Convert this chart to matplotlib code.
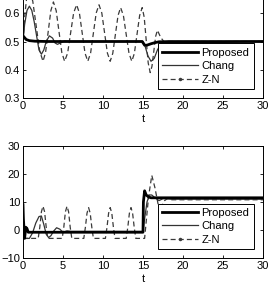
import numpy as np
import matplotlib
matplotlib.use('Agg')
import matplotlib.pyplot as plt
from matplotlib.lines import Line2D

plt.rcParams['font.family'] = ['Liberation Sans', 'DejaVu Sans']
plt.rcParams['font.size'] = 8

# ---- top panel: output ----
t_prop_y = [0, 0.15, 0.4, 0.8, 1.5, 3, 14.9, 15.2, 15.5, 16, 16.5, 17, 30]
prop_y = [0.52, 0.515, 0.507, 0.503, 0.501, 0.5, 0.5, 0.487, 0.487, 0.492, 0.496, 0.499, 0.5]

t_chang_y = [0, 0.2, 0.5, 0.8, 1.1, 1.4, 1.7, 2.0, 2.3, 2.6, 2.9, 3.3, 3.7, 4.0, 4.3,
             4.7, 5.2, 6, 15, 15.3, 15.6, 16.0, 16.4, 16.8, 17.2, 17.6, 18.2, 30]
chang_y = [0.5, 0.56, 0.61, 0.625, 0.61, 0.57, 0.52, 0.47, 0.455, 0.47, 0.50, 0.52, 0.512,
           0.495, 0.49, 0.495, 0.502, 0.5, 0.5, 0.48, 0.45, 0.43, 0.44, 0.47, 0.49, 0.5, 0.502, 0.5]

t_zn_y = [0, 0.25, 0.5, 0.8, 1.22, 1.65, 2.08, 2.5, 2.82, 3.15, 3.48, 3.8, 4.15, 4.5, 4.85, 5.2,
          5.58, 5.95, 6.33, 6.7, 7.05, 7.4, 7.75, 8.1, 8.45, 8.8, 9.15, 9.5, 9.85, 10.2, 10.55,
          10.9, 11.22, 11.55, 11.88, 12.2, 12.55, 12.9, 13.25, 13.6, 13.92, 14.25, 14.58, 14.9,
          15.15, 15.4, 15.65, 15.9, 16.12, 16.35, 16.58, 16.8, 17.2, 17.6, 30]
zn_y = [0.5, 0.6, 0.665, 0.68, 0.643, 0.555, 0.467, 0.43, 0.461, 0.535, 0.609, 0.64, 0.609,
        0.535, 0.461, 0.43, 0.459, 0.53, 0.601, 0.63, 0.601, 0.53, 0.459, 0.43, 0.459, 0.53,
        0.601, 0.63, 0.601, 0.53, 0.459, 0.43, 0.458, 0.525, 0.592, 0.62, 0.592, 0.525, 0.458,
        0.43, 0.458, 0.525, 0.592, 0.62, 0.586, 0.505, 0.424, 0.39, 0.412, 0.465, 0.518, 0.54,
        0.515, 0.5, 0.5]

# ---- bottom panel: control signal ----
t_prop_u = [0, 0.05, 0.2, 0.35, 0.5, 0.65, 0.8, 15.0, 15.05, 15.2, 15.4, 15.7, 16.0, 30]
prop_u = [9, 4, -3, 1, 0.5, -0.8, -0.8, -0.8, 10, 14, 12.5, 11.8, 11.5, 11.5]

t_chang_u = [0, 0.8, 1.2, 1.6, 2.0, 2.3, 2.6, 2.9, 3.2, 3.5, 3.8, 4.2, 4.6, 5.0, 5.5, 6.0,
             15.0, 15.2, 15.5, 15.8, 16.1, 16.5, 17.0, 17.5, 18.5, 30]
chang_u = [-3, -3, -1, 2.5, 4.8, 5, 2, -1.5, -2.7, -2, -0.5, 0.8, 0.3, -0.8, -0.3, -0.5,
           -0.5, 4, 10, 12.5, 12.5, 11.5, 10.5, 11.2, 11, 11]

t_zn_u = [0, 1.9, 2.1, 2.3, 2.5, 2.7, 2.9, 3.1,
          4.9, 5.1, 5.3, 5.5, 5.7, 5.9, 6.1,
          7.6, 7.8, 8.0, 8.2, 8.4, 8.6, 8.8,
          10.3, 10.5, 10.7, 10.9, 11.1, 11.3, 11.5,
          12.9, 13.1, 13.3, 13.5, 13.7, 13.9, 14.1,
          15.2, 15.4, 15.7, 16.1, 16.5, 16.9, 17.3, 17.7, 18.1, 18.6, 30]
zn_u = [-3, -3, 1, 6.5, 8.5, 6.5, 1, -3,
        -3, 1, 6.5, 8.5, 6.5, 1, -3,
        -3, 1, 6, 8, 6, 1, -3,
        -3, 1, 6, 8, 6, 1, -3,
        -3, 1, 6, 8, 6, 1, -3,
        -3, 3, 12, 19.5, 15, 9, 8.2, 10.5, 11.3, 10.8, 10.8]

W, H = 269, 284
fig = plt.figure(figsize=(W / 100, H / 100), dpi=100)

ax1 = fig.add_axes([23 / W, 1 - 98 / H, 240 / W, 113 / H])
ax2 = fig.add_axes([23 / W, 1 - 258 / H, 240 / W, 112 / H])

zn_style = dict(color='#3a3a3a', lw=0.9, ls=(0, (4, 2.5)))
chang_style = dict(color='#333333', lw=0.9)
prop_style = dict(color='black', lw=2.0)

ax1.plot(t_zn_y, zn_y, **zn_style)
ax1.plot(t_chang_y, chang_y, **chang_style)
ax1.plot(t_prop_y, prop_y, **prop_style)
ax1.set_ylim(0.3, 0.7)
ax1.set_yticks([0.3, 0.4, 0.5, 0.6])

ax2.plot(t_zn_u, zn_u, **zn_style)
ax2.plot(t_chang_u, chang_u, **chang_style)
ax2.plot(t_prop_u, prop_u, **prop_style)
ax2.set_ylim(-10, 30)
ax2.set_yticks([-10, 0, 10, 20, 30])

handles = [Line2D([], [], **prop_style),
           Line2D([], [], **chang_style),
           Line2D([], [], marker='.', markersize=3, markevery=[1], **zn_style)]
labels = ['Proposed', 'Chang', 'Z-N']

for ax in (ax1, ax2):
    ax.set_xlim(0, 30)
    ax.set_xticks([0, 5, 10, 15, 20, 25, 30])
    ax.tick_params(direction='in', length=2.5, width=0.6, top=True, right=True, pad=2,
                   labelsize=8)
    for s in ax.spines.values():
        s.set_linewidth(0.7)
    ax.set_xlabel('t', labelpad=2.5, fontsize=8)
    leg = ax.legend(handles, labels, loc='lower right', bbox_to_anchor=(0.985, 0.03),
                    handlelength=3.2, handletextpad=0.35, borderpad=0.4,
                    labelspacing=0.3, fancybox=False, edgecolor='black', framealpha=1,
                    fontsize=8)
    leg.get_frame().set_linewidth(0.7)

fig.savefig('out.png', dpi=100)
